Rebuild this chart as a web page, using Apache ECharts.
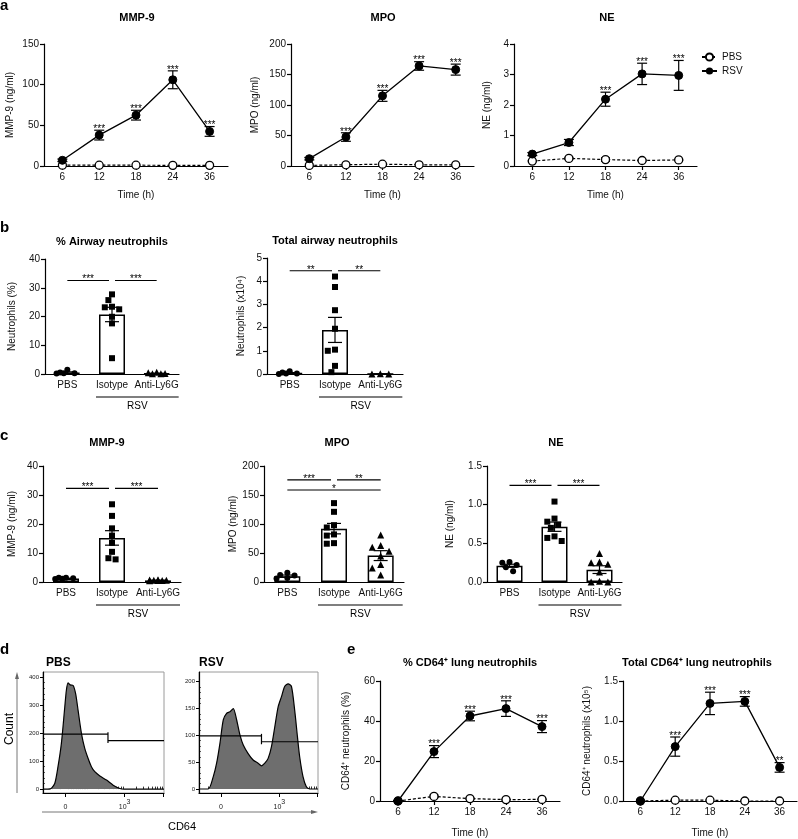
<!DOCTYPE html>
<html><head><meta charset="utf-8">
<script src="https://cdn.jsdelivr.net/npm/echarts@6/dist/echarts.min.js"></script>
<style>html,body{margin:0;padding:0;background:#fff}#c{width:798px;height:839px}</style>
</head><body><div id="c"></div>
<script>
// ================= DATA =================
const timeCats = ['6', '12', '18', '24', '36'];
const groupCats = ['PBS', 'Isotype', 'Anti-Ly6G'];

// panel a — time course in airway
const mmp9RSV = [7, 38, 62.5, 106, 42.5];
const mmp9RSVErr = [1.5, 6, 6, 11, 6];
const mmp9PBS = [1, 1, 1, 0.8, 0.8];
const mmp9PBSErr = [0, 0, 0, 0, 0];
const mmp9Stars = ['', '***', '***', '***', '***'];

const mpoRSV = [12, 47.5, 115, 164, 158];
const mpoRSVErr = [2, 7, 9, 7, 9];
const mpoPBS = [1, 2, 3, 2, 2];
const mpoPBSErr = [0, 0, 1, 0, 0];
const mpoStars = ['', '***', '***', '***', '***'];

const neRSV = [0.39, 0.77, 2.19, 3.02, 2.97];
const neRSVErr = [0.05, 0.1, 0.23, 0.35, 0.49];
const nePBS = [0.16, 0.25, 0.21, 0.18, 0.2];
const nePBSErr = [0.02, 0.03, 0.06, 0.02, 0.02];
const neStars = ['', '', '***', '***', '***'];

// panel b — airway neutrophils
const pctPBS = [1.5, 0.3, 0.2, 0.3, 0.5];
const pctIso = [27.7, 25.7, 23.4, 22.5, 23.2, 19.9, 17.6, 5.5];
const pctAnti = [0.4, 0.1, 0.2, 0.6, 0.1];
const pctMean = [0.5, 20.7, 0.2];
const pctSem = [0.25, 2.5, 0.08];
const pctSig = [[0, 1, 32.5, '***'], [1, 2, 32.5, '***']];

const totPBS = [0.12, 0.02, 0.0, 0.02, 0.06];
const totIso = [4.2, 3.75, 2.75, 1.95, 1.05, 1.0, 0.35, 0.08];
const totAnti = [0.0, -0.02, 0.0, 0.01, -0.01];
const totMean = [0.04, 1.9, 0.0];
const totSem = [0.02, 0.54, 0.01];
const totSig = [[0, 1, 4.45, '**'], [1, 2, 4.45, '**']];

// panel c — mediators after depletion
const cMmpPBS = [1.5, 1.3, 1.0, 1.1, 1.5];
const cMmpIso = [26.8, 22.8, 18.5, 16.0, 13.5, 10.4, 8.2, 7.8];
const cMmpAnti = [0.6, 0.4, 0.7, 0.5, 0.8, 0.5, 0.6];
const cMmpMean = [1.2, 15.2, 0.55];
const cMmpSem = [0.12, 2.5, 0.1];
const cMmpSig = [[0, 1, 32.3, '***'], [1, 2, 32.3, '***']];

const cMpoPBS = [16, 11, 6, 7, 12];
const cMpoIso = [136, 121, 98, 94, 82, 80, 67, 66];
const cMpoAnti = [81, 63, 60, 53, 45, 30, 24, 12];
const cMpoMean = [10, 92, 45.5];
const cMpoSem = [2, 9, 8.5];
const cMpoSig = [[0, 1, 176, '***'], [1, 2, 176, '**'], [0, 2, 158.6, '*']];

const cNePBS = [0.25, 0.26, 0.22, 0.19, 0.14];
const cNeIso = [1.04, 0.82, 0.78, 0.74, 0.70, 0.59, 0.57, 0.53];
const cNeAnti = [0.37, 0.26, 0.25, 0.23, 0.13, 0.01, 0.0, 0.0];
const cNeMean = [0.21, 0.715, 0.16];
const cNeSem = [0.02, 0.06, 0.05];
const cNeSig = [[0, 1, 1.25, '***'], [1, 2, 1.25, '***']];

// panel d — CD64 histograms (channel 0-100, count)
const pbsHistX = [0, 6, 9.7, 12.4, 15.2, 18, 19.3, 20.7, 22.5, 24.9, 27, 29, 31.8, 34.5, 37.3, 40, 42.8, 47, 52.5, 58, 63.5, 67, 100];
const pbsHistY = [0, 1, 20, 80, 163, 293, 352, 379, 372, 370, 340, 281, 198, 145, 109, 80, 62, 47, 32, 14, 2, 0, 0];
const pbsGateX = [0, 53.7, 100];
const pbsGateY = [196, 173];
const pbsYTicks = [0, 100, 200, 300, 400];

const rsvHistX = [0, 7.8, 12, 14.8, 17.6, 20.4, 23.2, 26, 28.8, 31.6, 34.4, 37.2, 41.3, 45.5, 49.7, 52.5, 55.3, 58.1, 60.9, 63.7, 66.5, 69.3, 72, 74.9, 77.7, 80.4, 82.7, 84.6, 87.4, 90.2, 93, 100];
const rsvHistY = [0, 0, 23, 48, 85, 129, 141, 144, 150, 129, 101, 82, 66, 54, 48, 43, 48, 57, 79, 116, 153, 172, 191, 196, 191, 147, 98, 60, 23, 4, 0, 0];
const rsvGateX = [0, 52.5, 100];
const rsvGateY = [99, 88];
const rsvYTicks = [0, 50, 100, 150, 200];

// panel e — CD64+ lung neutrophils
const e1RSV = [0, 24.7, 42.5, 46.2, 37.2];
const e1RSVErr = [0.3, 3, 2.4, 3.9, 3];
const e1PBS = [0, 2.3, 1.2, 0.7, 0.8];
const e1PBSErr = [0, 0.6, 0.3, 0.2, 0.2];
const e1Stars = ['', '***', '***', '***', '***'];

const e2RSV = [0, 0.68, 1.22, 1.245, 0.42];
const e2RSVErr = [0, 0.12, 0.14, 0.06, 0.06];
const e2PBS = [0, 0.01, 0.01, 0.0, 0.0];
const e2PBSErr = [0, 0, 0, 0, 0];
const e2Stars = ['', '***', '***', '***', '**'];

// ================= BUILD =================
const FONT = '"Liberation Sans", Arial, Helvetica, sans-serif';
const option = {
  animation: false, backgroundColor: '#fff',
  textStyle: { fontFamily: FONT },
  grid: [], xAxis: [], yAxis: [], series: [], graphic: [],
  legend: {
    data: ['PBS', 'RSV'], orient: 'vertical', left: 696, top: 47,
    itemWidth: 15, itemHeight: 9, itemGap: 4, selectedMode: false,
    textStyle: { fontSize: 10, color: '#111', fontFamily: FONT }
  }
};
const AXLINE = { show: true, onZero: false, lineStyle: { color: '#000', width: 1.2 } };
const AXTICK = { show: true, length: 4, lineStyle: { color: '#000', width: 1.2 } };
function lbl(extra) { return Object.assign({ color: '#111', fontSize: 10, fontFamily: FONT }, extra || {}); }
function L(x1, y1, x2, y2, w) { return { type: 'line', shape: { x1, y1, x2, y2 }, style: { stroke: '#000', lineWidth: w || 1.2 } }; }
function T(text, x, y, size, va) {
  return { type: 'text', style: { text, x, y, fill: '#000', fontSize: size || 10, fontFamily: FONT,
    textAlign: 'center', align: 'center', textVerticalAlign: va || 'bottom', verticalAlign: va || 'bottom' } };
}
function addGrid(g, show) {
  option.grid.push(Object.assign({ containLabel: false, show: !!show, borderColor: '#9a9a9a', borderWidth: 1 }, g));
  return option.grid.length - 1;
}
function gtext(text, x, y, font, align, rot, fill) {
  option.graphic.push({ type: 'text', x, y, rotation: rot || 0,
    style: { text, font, fill: fill || '#000', textAlign: align || 'center', align: align || 'center',
      textVerticalAlign: 'middle', verticalAlign: 'middle' } });
}
function errRender(capW, labels) {
  return function (params, api) {
    const i = api.value(0), m = api.value(1), e = api.value(2);
    const c = api.coord([i, m]), hi = api.coord([i, m + e]), lo = api.coord([i, m - e]);
    const ch = [];
    if (e > 0) {
      ch.push(L(c[0], hi[1], c[0], lo[1]));
      ch.push(L(c[0] - capW / 2, hi[1], c[0] + capW / 2, hi[1]));
      ch.push(L(c[0] - capW / 2, lo[1], c[0] + capW / 2, lo[1]));
    }
    const s = labels && labels[params.dataIndex];
    if (s) {
      const top = Math.min(hi[1], c[1] - 4);
      ch.push(T(s, c[0], top + 4, 10));
    }
    return { type: 'group', children: ch };
  };
}

function timeChart(g, yMax, yInt, dec, yName, yGap, xGap, pbs, pbsErr, rsv, rsvErr, stars) {
  const gi = addGrid(g);
  const xi = option.xAxis.push({ gridIndex: gi, type: 'category', data: timeCats, boundaryGap: true,
    axisLine: AXLINE, axisTick: Object.assign({ alignWithLabel: true }, AXTICK), axisLabel: lbl({ margin: 6 }),
    splitLine: { show: false }, name: 'Time (h)', nameLocation: 'middle', nameGap: xGap, nameTextStyle: lbl() }) - 1;
  const yi = option.yAxis.push({ gridIndex: gi, type: 'value', min: 0, max: yMax, interval: yInt,
    axisLine: AXLINE, axisTick: AXTICK, axisLabel: lbl({ margin: 5, formatter: v => dec ? v.toFixed(dec) : String(v) }),
    splitLine: { show: false }, name: yName, nameLocation: 'middle', nameGap: yGap, nameTextStyle: lbl() }) - 1;
  option.series.push({ type: 'custom', xAxisIndex: xi, yAxisIndex: yi, z: 2, silent: true,
    renderItem: errRender(9, null), data: pbs.map((v, i) => [i, v, pbsErr[i]]) });
  option.series.push({ type: 'line', name: 'PBS', xAxisIndex: xi, yAxisIndex: yi, z: 3, data: pbs, silent: true,
    symbol: 'circle', symbolSize: 8, showSymbol: true,
    itemStyle: { color: '#fff', borderColor: '#000', borderWidth: 1.3 },
    lineStyle: { color: '#000', width: 1.2, type: [3, 2] } });
  option.series.push({ type: 'custom', xAxisIndex: xi, yAxisIndex: yi, z: 4, silent: true,
    renderItem: errRender(10, stars), data: rsv.map((v, i) => [i, v, rsvErr[i]]) });
  option.series.push({ type: 'line', name: 'RSV', xAxisIndex: xi, yAxisIndex: yi, z: 5, data: rsv, silent: true,
    symbol: 'circle', symbolSize: 8, showSymbol: true,
    itemStyle: { color: '#000', borderColor: '#000' },
    lineStyle: { color: '#000', width: 1.3 } });
}

// simple beeswarm: spread overlapping points sideways, limited to +/- maxDx pixels
function swarmOffsets(values, pxPerUnit, size) {
  const order = values.map((v, i) => i).sort((a, b) => values[b] - values[a]);
  const placed = [], off = new Array(values.length).fill(0);
  const step = size * 0.6, minD = size * 1.1, maxDx = 12;
  const cands = [0];
  for (let k = 1; k * step <= maxDx + 0.01; k++) { cands.push(-k * step); cands.push(k * step); }
  for (const i of order) {
    const y = values[i] * pxPerUnit;
    let best = 0, bestD = -1;
    for (const dx of cands) {
      const d = placed.length ? Math.min(...placed.map(p => Math.hypot(p[0] - dx, p[1] - y))) : Infinity;
      if (d >= minD) { best = dx; bestD = Infinity; break; }
      if (d > bestD) { bestD = d; best = dx; }
    }
    off[i] = best; placed.push([best, y]);
  }
  return off;
}

function barChart(g, yMax, yInt, dec, yName, yGap, groups, means, sems, sig) {
  const gi = addGrid(g);
  const xi = option.xAxis.push({ gridIndex: gi, type: 'category', data: groupCats, boundaryGap: true,
    axisLine: AXLINE, axisTick: { show: false }, axisLabel: lbl({ margin: 6, interval: 0 }), splitLine: { show: false } }) - 1;
  const yi = option.yAxis.push({ gridIndex: gi, type: 'value', min: 0, max: yMax, interval: yInt,
    axisLine: AXLINE, axisTick: AXTICK, axisLabel: lbl({ margin: 5, formatter: v => dec ? v.toFixed(dec) : String(v) }),
    splitLine: { show: false }, name: yName, nameLocation: 'middle', nameGap: yGap, nameTextStyle: lbl() }) - 1;
  option.series.push({ type: 'bar', xAxisIndex: xi, yAxisIndex: yi, z: 2, silent: true, barWidth: 26, data: means,
    itemStyle: { color: '#fff', borderColor: '#000', borderWidth: 1.5 } });
  const shapes = ['circle', 'rect', 'triangle'], sizes = [6, 6, 7];
  const ppu = g.height / yMax;
  groups.forEach((vals, k) => {
    const off = swarmOffsets(vals, ppu, sizes[k]);
    option.series.push({ type: 'scatter', xAxisIndex: xi, yAxisIndex: yi, z: 5, silent: true,
      symbol: shapes[k], symbolSize: sizes[k], itemStyle: { color: '#000', opacity: 1 },
      data: vals.map((v, i) => ({ value: [k, v], symbolOffset: [off[i], 0] })) });
  });
  option.series.push({ type: 'custom', xAxisIndex: xi, yAxisIndex: yi, z: 4, silent: true,
    renderItem: errRender(14, null), data: means.map((v, i) => [i, v, sems[i]]) });
  option.series.push({ type: 'custom', xAxisIndex: xi, yAxisIndex: yi, z: 4, silent: true,
    data: sig.map(s => [s[0], s[2], s[1]]),
    renderItem(params, api) {
      const s = sig[params.dataIndex];
      const a = api.coord([s[0], s[2]]), b = api.coord([s[1], s[2]]);
      const x1 = a[0] + (s[0] === 1 ? 3 : 0), x2 = b[0] - (s[1] === 1 ? 3 : 0);
      return { type: 'group', children: [L(x1, a[1], x2, a[1], 1.1), T(s[3], (x1 + x2) / 2, a[1] + 4, 10)] };
    } });
  option.series.push({ type: 'custom', xAxisIndex: xi, yAxisIndex: yi, z: 4, silent: true,
    data: [[1, 0]],
    renderItem(params, api) {
      const a = api.coord([1, 0]), b = api.coord([2, 0]);
      const x1 = a[0] - 16, x2 = b[0] + 22, y = a[1] + 23;
      return { type: 'group', children: [L(x1, y, x2, y, 1.1), T('RSV', (x1 + x2) / 2, y + 9, 10, 'middle')] };
    } });
}

function biex(v) { const w = 60; return 18.5 + (67.5 - 18.5) * Math.asinh(v / w) / Math.asinh(1000 / w); }
const minorXVals = [-100, -50, -20, 10, 20, 30, 40, 50, 60, 70, 80, 90, 100, 200, 300, 400, 500, 600, 700, 800, 900,
  2000, 3000, 4000, 5000, 6000, 7000, 8000, 9000];

function histChart(g, xs, ys, yMin, yMax, yTicks, yMinorStep, gateX, gateY) {
  const gi = addGrid(g, true);
  const xi = option.xAxis.push({ gridIndex: gi, type: 'value', min: 0, max: 100,
    axisLine: { show: true, onZero: false, lineStyle: { color: '#000', width: 1.2 } }, splitLine: { show: false },
    axisTick: { show: true, length: 4, customValues: [biex(0), biex(1000), biex(10000)], lineStyle: { color: '#000', width: 1 } },
    axisLabel: { show: true, customValues: [biex(0), biex(1000)], formatter: v => v < 40 ? '{n|0}' : '{n|10}{s|3}',
      color: '#222', margin: 6, fontFamily: FONT,
      rich: { n: { fontSize: 7, color: '#222', fontFamily: FONT, lineHeight: 12, verticalAlign: 'bottom' },
              s: { fontSize: 7, color: '#222', fontFamily: FONT, lineHeight: 12, verticalAlign: 'top' } } } }) - 1;
  option.xAxis.push({ gridIndex: gi, type: 'value', min: 0, max: 100, axisLine: { show: false }, splitLine: { show: false },
    axisLabel: { show: false },
    axisTick: { show: true, length: 2.5, customValues: minorXVals.map(biex).filter(v => v > 0 && v < 100), lineStyle: { color: '#000', width: 0.8 } } });
  const yi = option.yAxis.push({ gridIndex: gi, type: 'value', min: yMin, max: yMax,
    axisLine: { show: true, onZero: false, lineStyle: { color: '#000', width: 1.2 } }, splitLine: { show: false },
    axisTick: { show: true, length: 3, customValues: yTicks, lineStyle: { color: '#000', width: 1 } },
    axisLabel: { show: true, customValues: yTicks, fontSize: 6, color: '#222', margin: 4, fontFamily: FONT } }) - 1;
  const minorY = [];
  for (let v = yMinorStep; v < yTicks[yTicks.length - 1] + yMinorStep; v += yMinorStep) if (yTicks.indexOf(v) < 0 && v < yMax) minorY.push(v);
  option.yAxis.push({ gridIndex: gi, type: 'value', min: yMin, max: yMax, axisLine: { show: false }, splitLine: { show: false },
    axisLabel: { show: false },
    axisTick: { show: true, length: 1.8, customValues: minorY, lineStyle: { color: '#000', width: 0.8 } } });
  option.series.push({ type: 'line', xAxisIndex: xi, yAxisIndex: yi, z: 3, silent: true, showSymbol: false, symbol: 'none',
    smooth: 0.25, data: xs.map((x, i) => [x, ys[i]]),
    lineStyle: { color: '#000', width: 1.2 }, areaStyle: { color: '#6e6e6e', opacity: 1 } });
  option.series.push({ type: 'custom', xAxisIndex: xi, yAxisIndex: yi, z: 4, silent: true,
    data: [[gateX[0], gateY[0]]],
    renderItem(params, api) {
      const p0 = api.coord([gateX[0], gateY[0]]), p1 = api.coord([gateX[1], gateY[0]]);
      const p2 = api.coord([gateX[1], gateY[1]]), p3 = api.coord([gateX[2], gateY[1]]);
      return { type: 'group', children: [L(p0[0], p0[1], p1[0], p1[1], 1.2), L(p2[0], p2[1], p3[0], p3[1], 1.2),
        L(p1[0], p1[1] - 2, p2[0], p2[1] + 2.5, 1.2)] };
    } });
}

// ---- panel a ----
timeChart({ left: 44, top: 44, width: 184, height: 122 }, 150, 50, 0, 'MMP-9 (ng/ml)', 29, 24,
  mmp9PBS, mmp9PBSErr, mmp9RSV, mmp9RSVErr, mmp9Stars);
timeChart({ left: 291, top: 44, width: 183, height: 122 }, 200, 50, 0, 'MPO (ng/ml)', 31, 24,
  mpoPBS, mpoPBSErr, mpoRSV, mpoRSVErr, mpoStars);
timeChart({ left: 514, top: 44, width: 183, height: 122 }, 4, 1, 0, 'NE (ng/ml)', 22, 24,
  nePBS, nePBSErr, neRSV, neRSVErr, neStars);

// ---- panel b ----
barChart({ left: 45, top: 259, width: 134, height: 115 }, 40, 10, 0, 'Neutrophils (%)', 28,
  [pctPBS, pctIso, pctAnti], pctMean, pctSem, pctSig);
barChart({ left: 267, top: 258, width: 136, height: 116 }, 5, 1, 0, 'Neutrophils (x10⁴)', 21,
  [totPBS, totIso, totAnti], totMean, totSem, totSig);

// ---- panel c ----
barChart({ left: 43, top: 466, width: 138, height: 116 }, 40, 10, 0, 'MMP-9 (ng/ml)', 26,
  [cMmpPBS, cMmpIso, cMmpAnti], cMmpMean, cMmpSem, cMmpSig);
barChart({ left: 264, top: 466, width: 140, height: 116 }, 200, 50, 0, 'MPO (ng/ml)', 26,
  [cMpoPBS, cMpoIso, cMpoAnti], cMpoMean, cMpoSem, cMpoSig);
barChart({ left: 487, top: 466, width: 135, height: 116 }, 1.5, 0.5, 1, 'NE (ng/ml)', 32,
  [cNePBS, cNeIso, cNeAnti], cNeMean, cNeSem, cNeSig);

// ---- panel d ----
histChart({ left: 43, top: 672, width: 121, height: 121 }, pbsHistX, pbsHistY, -14, 418, pbsYTicks, 20, pbsGateX, pbsGateY);
histChart({ left: 199, top: 672, width: 119, height: 121 }, rsvHistX, rsvHistY, -7.5, 218, rsvYTicks, 10, rsvGateX, rsvGateY);

// ---- panel e ----
timeChart({ left: 380, top: 681, width: 180, height: 120 }, 60, 20, 0, 'CD64⁺ neutrophils (%)', 29, 27,
  e1PBS, e1PBSErr, e1RSV, e1RSVErr, e1Stars);
timeChart({ left: 623, top: 681, width: 174, height: 120 }, 1.5, 0.5, 1, 'CD64⁺ neutrophils (x10⁵)', 31, 27,
  e2PBS, e2PBSErr, e2RSV, e2RSVErr, e2Stars);

// ---- titles & panel letters ----
const TB = 'bold 11px ' + FONT, LB = 'bold 15px ' + FONT;
gtext('a', 0, 6, LB, 'left');
gtext('b', 0, 228, LB, 'left');
gtext('c', 0, 436, LB, 'left');
gtext('d', 0, 650, LB, 'left');
gtext('e', 347, 650, LB, 'left');
gtext('MMP-9', 137, 18, TB);
gtext('MPO', 383, 18, TB);
gtext('NE', 607, 18, TB);
gtext('% Airway neutrophils', 112, 242, TB);
gtext('Total airway neutrophils', 335, 241, TB);
gtext('MMP-9', 107, 443, TB);
gtext('MPO', 337, 443, TB);
gtext('NE', 556, 443, TB);
gtext('PBS', 46, 663, 'bold 12px ' + FONT, 'left');
gtext('RSV', 199, 663, 'bold 12px ' + FONT, 'left');
gtext('% CD64⁺ lung neutrophils', 470, 663, TB);
gtext('Total CD64⁺ lung neutrophils', 697, 663, TB);
gtext('Count', 10, 729, '12px ' + FONT, 'center', Math.PI / 2);
gtext('CD64', 182, 827, '11px ' + FONT, 'center');
// axis arrows of panel d
option.graphic.push({ type: 'line', shape: { x1: 17, y1: 793, x2: 17, y2: 677 }, style: { stroke: '#777', lineWidth: 1 } });
option.graphic.push({ type: 'polygon', shape: { points: [[17, 672], [15, 679], [19, 679]] }, style: { fill: '#666' } });
option.graphic.push({ type: 'line', shape: { x1: 42, y1: 812, x2: 312, y2: 812 }, style: { stroke: '#777', lineWidth: 1 } });
option.graphic.push({ type: 'polygon', shape: { points: [[318, 812], [311, 810], [311, 814]] }, style: { fill: '#666' } });

const chart = echarts.init(document.getElementById('c'), null, { renderer: 'canvas', width: 798, height: 839 });
chart.setOption(option);
</script>
</body></html>
